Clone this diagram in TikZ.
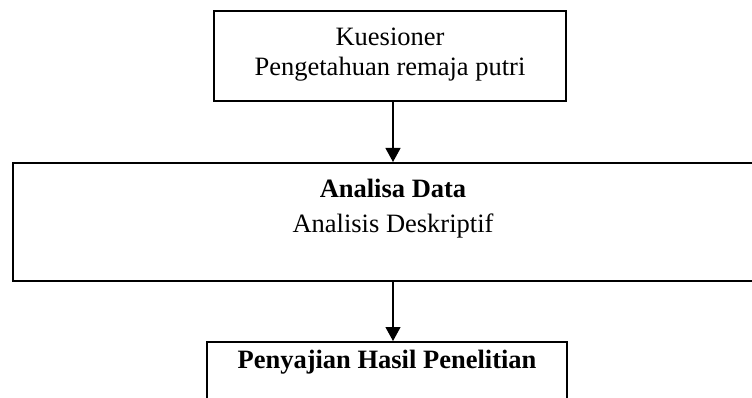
\documentclass[tikz,border=0pt]{standalone}
\usepackage{fontspec}
\setmainfont{Liberation Serif}
\usetikzlibrary{arrows.meta}

\begin{document}
\begin{tikzpicture}[x=1pt, y=-1pt,
    box/.style={draw, line width=2pt, inner ysep=0pt, align=center,
        font=\fontsize{26.5}{30}\selectfont},
    flow/.style={-{Triangle[length=14pt,width=15pt]}, line width=1.2pt}]
    \clip (0,0) rectangle (752,398);
    \node[box, anchor=north, minimum width=352pt, text height=65pt, text depth=25pt]
        (kuesioner) at (390,10) {Kuesioner\\Pengetahuan remaja putri};
    \node[box, anchor=north, minimum width=760pt, text height=70pt, text depth=48pt]
        (analisa) at (393,162) {\textbf{Analisa Data}\\[5pt]Analisis Deskriptif};
    \node[box, anchor=north, minimum width=360pt, text height=26pt, text depth=70pt]
        (hasil) at (387,341) {\textbf{Penyajian Hasil Penelitian}};
    \draw[flow] (kuesioner.south -| analisa.north) -- (analisa.north);
    \draw[flow] (analisa.south) -- (analisa.south |- hasil.north);
\end{tikzpicture}
\end{document}
